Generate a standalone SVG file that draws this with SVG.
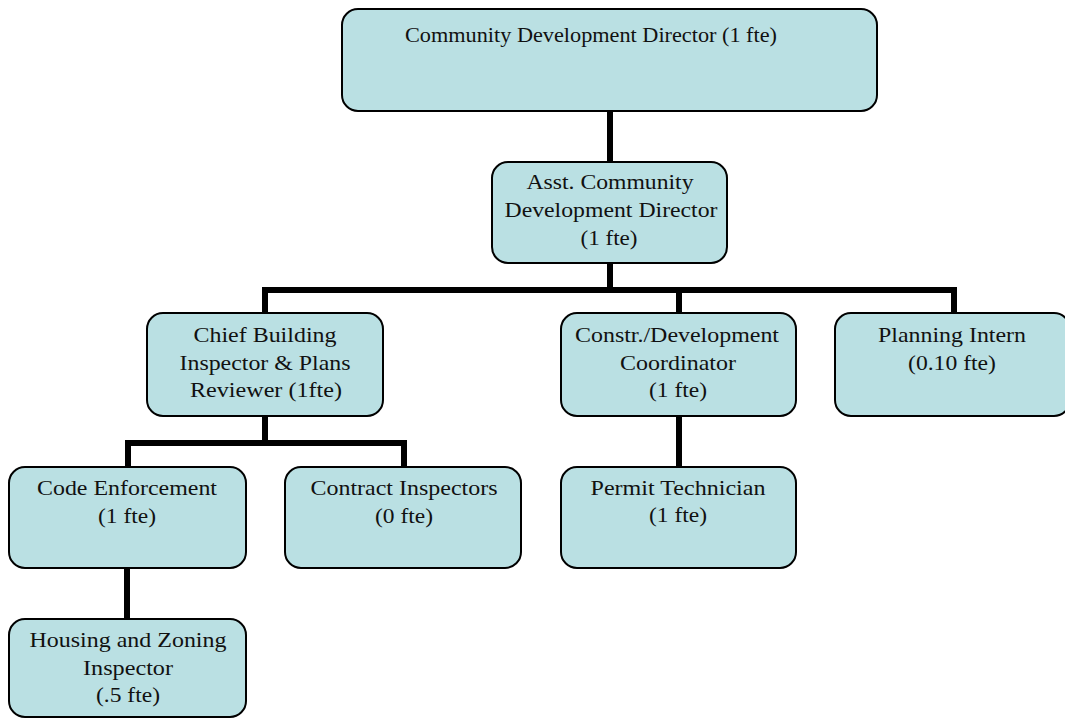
<svg xmlns="http://www.w3.org/2000/svg" width="1065" height="719" viewBox="0 0 1065 719">
  <style>
    .box { fill: #bae0e3; stroke: #000; stroke-width: 2; }
    .lbl { font-family: 'Liberation Serif', 'Times New Roman', Times, serif; font-size: 22px; fill: #111; text-anchor: middle; }
    .wire { fill: none; stroke: #000; stroke-width: 6; stroke-linejoin: miter; stroke-linecap: butt; }
  </style>
  <rect width="1065" height="719" fill="#fff"/>

  <!-- reporting lines -->
  <g id="connectors">
    <path class="wire" d="M610,111 V162"/>
    <path class="wire" d="M610,263 V290"/>
    <path class="wire" d="M265,313 V290 H954 V313"/>
    <path class="wire" d="M679,290 V313"/>
    <path class="wire" d="M265,416 V443"/>
    <path class="wire" d="M128,467 V443 H404 V467"/>
    <path class="wire" d="M127,568 V619"/>
    <path class="wire" d="M679,416 V467"/>
  </g>

  <g id="director">
    <rect class="box" x="342" y="9" width="535" height="102" rx="16"/>
    <text class="lbl" x="591" y="42" textLength="372" lengthAdjust="spacingAndGlyphs">Community Development Director (1 fte)</text>
  </g>

  <g id="asst-director">
    <rect class="box" x="492" y="162" width="235" height="101" rx="16"/>
    <text class="lbl" x="610" y="189" textLength="167" lengthAdjust="spacingAndGlyphs">Asst. Community</text>
    <text class="lbl" x="611" y="217" textLength="213" lengthAdjust="spacingAndGlyphs">Development Director</text>
    <text class="lbl" x="609" y="245" textLength="57" lengthAdjust="spacingAndGlyphs">(1 fte)</text>
  </g>

  <g id="chief-building">
    <rect class="box" x="147" y="313" width="236" height="103" rx="16"/>
    <text class="lbl" x="265" y="342" textLength="143" lengthAdjust="spacingAndGlyphs">Chief Building</text>
    <text class="lbl" x="265" y="370" textLength="171" lengthAdjust="spacingAndGlyphs">Inspector &amp; Plans</text>
    <text class="lbl" x="266" y="397" textLength="152" lengthAdjust="spacingAndGlyphs">Reviewer (1fte)</text>
  </g>

  <g id="constr-coordinator">
    <rect class="box" x="561" y="313" width="235" height="103" rx="16"/>
    <text class="lbl" x="677" y="342" textLength="204" lengthAdjust="spacingAndGlyphs">Constr./Development</text>
    <text class="lbl" x="678" y="370" textLength="116" lengthAdjust="spacingAndGlyphs">Coordinator</text>
    <text class="lbl" x="678" y="397" textLength="58" lengthAdjust="spacingAndGlyphs">(1 fte)</text>
  </g>

  <g id="planning-intern">
    <rect class="box" x="835" y="313" width="235" height="103" rx="16"/>
    <text class="lbl" x="952" y="342" textLength="148" lengthAdjust="spacingAndGlyphs">Planning Intern</text>
    <text class="lbl" x="952" y="370" textLength="88" lengthAdjust="spacingAndGlyphs">(0.10 fte)</text>
  </g>

  <g id="code-enforcement">
    <rect class="box" x="9" y="467" width="237" height="101" rx="16"/>
    <text class="lbl" x="127" y="495" textLength="180" lengthAdjust="spacingAndGlyphs">Code Enforcement</text>
    <text class="lbl" x="127" y="523" textLength="58" lengthAdjust="spacingAndGlyphs">(1 fte)</text>
  </g>

  <g id="contract-inspectors">
    <rect class="box" x="285" y="467" width="236" height="101" rx="16"/>
    <text class="lbl" x="404" y="495" textLength="187" lengthAdjust="spacingAndGlyphs">Contract Inspectors</text>
    <text class="lbl" x="404" y="523" textLength="58" lengthAdjust="spacingAndGlyphs">(0 fte)</text>
  </g>

  <g id="permit-technician">
    <rect class="box" x="561" y="467" width="235" height="101" rx="16"/>
    <text class="lbl" x="678" y="495" textLength="175" lengthAdjust="spacingAndGlyphs">Permit Technician</text>
    <text class="lbl" x="678" y="522" textLength="58" lengthAdjust="spacingAndGlyphs">(1 fte)</text>
  </g>

  <g id="housing-zoning">
    <rect class="box" x="9" y="619" width="237" height="98" rx="16"/>
    <text class="lbl" x="128" y="647" textLength="197" lengthAdjust="spacingAndGlyphs">Housing and Zoning</text>
    <text class="lbl" x="128" y="675" textLength="90" lengthAdjust="spacingAndGlyphs">Inspector</text>
    <text class="lbl" x="128" y="702" textLength="64" lengthAdjust="spacingAndGlyphs">(.5 fte)</text>
  </g>
</svg>
